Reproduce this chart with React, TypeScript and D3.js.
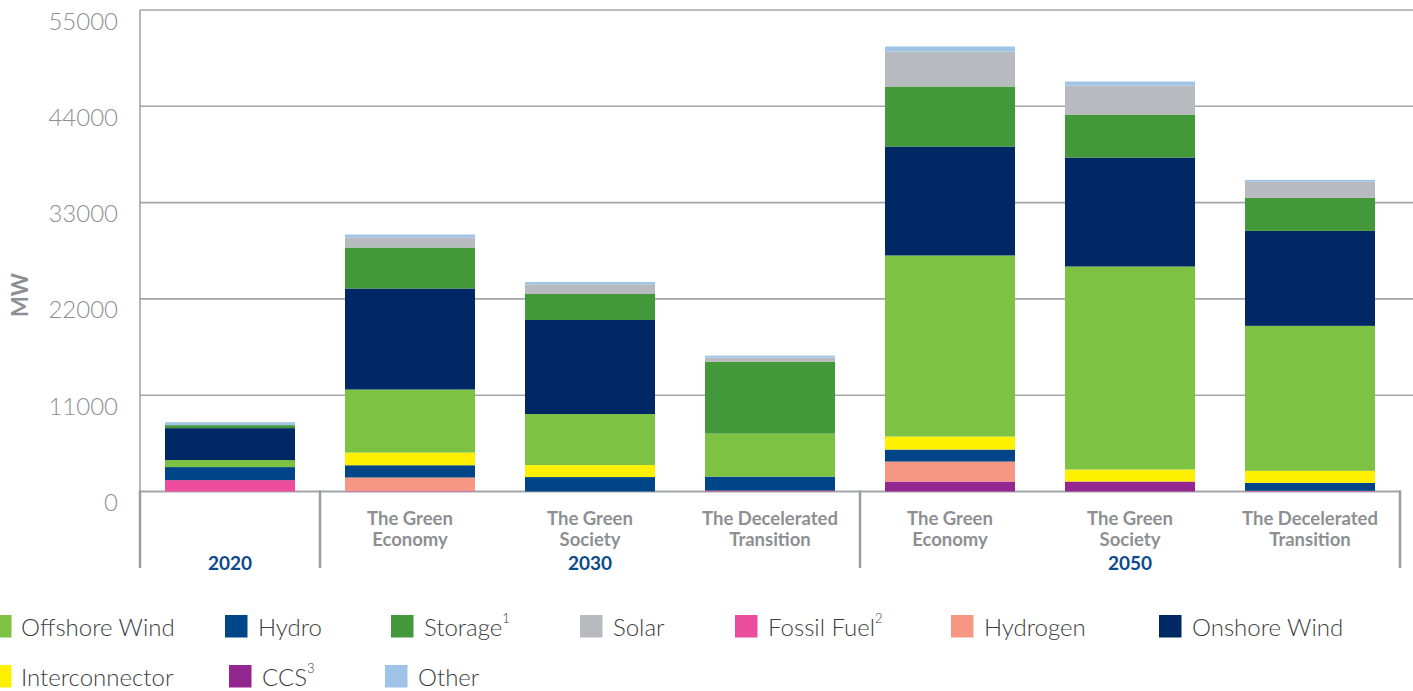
import React from "react";
import * as d3 from "d3";

// ---------- DATA ----------
const years = ["2020", "2030", "2050"];
const barYear = ["2020", "2030", "2030", "2030", "2050", "2050", "2050"];
const scenarios = [
  "",
  "The Green Economy",
  "The Green Society",
  "The Decelerated Transition",
  "The Green Economy",
  "The Green Society",
  "The Decelerated Transition",
];

const seriesNames = [
  "CCS",
  "Fossil Fuel",
  "Hydrogen",
  "Hydro",
  "Interconnector",
  "Offshore Wind",
  "Onshore Wind",
  "Storage",
  "Solar",
  "Other",
];

const ccs = [0, 0, 0, 0, 1140, 1140, 0];
const fossilFuel = [1300, 100, 0, 100, 0, 0, 80];
const hydrogen = [0, 1500, 0, 0, 2280, 0, 0];
const hydro = [1490, 1400, 1650, 1600, 1370, 0, 910];
const interconnector = [0, 1450, 1370, 0, 1490, 1370, 1370];
const offshoreWind = [800, 7200, 5830, 4910, 20680, 23190, 16560];
const onshoreWind = [3650, 11540, 10740, 0, 12450, 12450, 10850];
const storage = [340, 4680, 2970, 8220, 6850, 4910, 3770];
const solar = [0, 1140, 1110, 460, 4000, 3310, 1830];
const other = [340, 340, 260, 230, 570, 460, 230];

const yTicks = [0, 11000, 22000, 33000, 44000, 55000];

const legendRows = [
  ["Offshore Wind", "Hydro", "Storage", "Solar", "Fossil Fuel", "Hydrogen", "Onshore Wind"],
  ["Interconnector", "CCS", "Other"],
];
const footnote: Record<string, string> = { Storage: "1", "Fossil Fuel": "2", CCS: "3" };

// ---------- STYLE / LAYOUT ----------
const colors: Record<string, string> = {
  "Offshore Wind": "#7dc242",
  Hydro: "#004587",
  Storage: "#43983a",
  Solar: "#b7babe",
  "Fossil Fuel": "#ec4d9d",
  Hydrogen: "#f59782",
  "Onshore Wind": "#002864",
  Interconnector: "#fff000",
  CCS: "#93278f",
  Other: "#a0c4e8",
};
const legendX = [
  [0, 225, 391, 580, 735, 951, 1159],
  [0, 229, 385],
];
const legendY = [615, 665];

const W = 1413;
const H = 691;
const plotLeft = 140;
const plotRight = 1401;
const yTop = 10;
const yBottom = 491.5;

export default function App() {
  const valuesBySeries: Record<string, number[]> = {
    CCS: ccs,
    "Fossil Fuel": fossilFuel,
    Hydrogen: hydrogen,
    Hydro: hydro,
    Interconnector: interconnector,
    "Offshore Wind": offshoreWind,
    "Onshore Wind": onshoreWind,
    Storage: storage,
    Solar: solar,
    Other: other,
  };
  const rows = scenarios.map((s, i) => {
    const r: any = { idx: i };
    seriesNames.forEach((n) => (r[n] = valuesBySeries[n][i]));
    return r;
  });
  const stacked = d3.stack<any>().keys(seriesNames)(rows);

  const x = d3
    .scaleBand<number>()
    .domain(d3.range(scenarios.length))
    .range([plotLeft, plotLeft + 180 * scenarios.length])
    .paddingInner(50 / 180)
    .paddingOuter(25 / 180);
  const step = x.step();
  const y = d3.scaleLinear().domain([0, 55000]).range([yBottom, yTop]);

  const groups = years.map((yr) => {
    const idxs = barYear.map((b, i) => (b === yr ? i : -1)).filter((i) => i >= 0);
    const start = (x(idxs[0]) as number) - step * (25 / 180);
    const end = start + step * idxs.length;
    return { yr, start, end };
  });
  const boundaries = [groups[0].start, ...groups.map((g) => g.end)];

  const font = "Lato, 'Open Sans', sans-serif";
  const gray = "#8d8f92";

  return (
    <svg
      width={W}
      height={H}
      style={{ position: "absolute", left: 0, top: 0, display: "block", background: "#fff" }}
    >
      {yTicks.map((t) => (
        <line
          key={"g" + t}
          x1={plotLeft}
          x2={t === 0 ? plotRight : W}
          y1={y(t)}
          y2={y(t)}
          stroke="#a3a5a8"
          strokeWidth={t === 0 ? 2 : 1.6}
        />
      ))}
      <line x1={plotLeft} x2={plotLeft} y1={yTop} y2={yBottom} stroke="#8d8f92" strokeWidth={1.3} />

      {yTicks.map((t) => (
        <text
          key={"t" + t}
          x={118}
          y={y(t) + 10}
          textAnchor="end"
          dominantBaseline="central"
          fontFamily={font}
          fontWeight={300}
          fontSize={24}
          fill={gray}
        >
          {t}
        </text>
      ))}
      <text
        transform={`translate(19,295) rotate(-90)`}
        textAnchor="middle"
        dominantBaseline="central"
        fontFamily={font}
        fontWeight={700}
        fontSize={22}
        fill={gray}
      >
        MW
      </text>

      {stacked.map((layer) => (
        <g key={layer.key} fill={colors[layer.key]}>
          {layer.map((d, i) =>
            d[1] - d[0] > 0 ? (
              <rect
                key={i}
                x={x(i) as number}
                width={x.bandwidth()}
                y={y(d[1])}
                height={y(d[0]) - y(d[1])}
              />
            ) : null
          )}
        </g>
      ))}

      {boundaries.map((b, i) => (
        <line
          key={"s" + i}
          x1={b}
          x2={b}
          y1={yBottom - 1}
          y2={568}
          stroke="#9a9c9f"
          strokeWidth={2.5}
        />
      ))}

      {scenarios.map((s, i) => {
        if (!s) return null;
        const cut = s.lastIndexOf(" ");
        const lines = [s.slice(0, cut), s.slice(cut + 1)];
        const cx = (x(i) as number) + x.bandwidth() / 2;
        return (
          <text
            key={"c" + i}
            textAnchor="middle"
            fontFamily={font}
            fontWeight={700}
            fontSize={18.5}
            fill={gray}
          >
            {lines.map((l, j) => (
              <tspan key={j} x={cx} y={518 + j * 20.5} dominantBaseline="central">
                {l}
              </tspan>
            ))}
          </text>
        );
      })}

      {groups.map((g) => (
        <text
          key={"y" + g.yr}
          x={(g.start + g.end) / 2}
          y={562}
          textAnchor="middle"
          dominantBaseline="central"
          fontFamily={font}
          fontWeight={700}
          fontSize={19}
          fill="#0b4a8b"
        >
          {g.yr}
        </text>
      ))}

      {legendRows.map((row, ri) =>
        row.map((name, ci) => {
          const lx = legendX[ri][ci];
          const ly = legendY[ri];
          return (
            <g key={name}>
              <rect x={lx === 0 ? -11 : lx} y={ly} width={22.5} height={22.5} fill={colors[name]} />
              <text
                x={lx + (lx === 0 ? 21 : 33)}
                y={ly + 11.5}
                dominantBaseline="central"
                fontFamily={font}
                fontWeight={300}
                fontSize={24}
                fill="#3d3d3d"
              >
                {name}
                {footnote[name] ? (
                  <tspan fontSize={13} dy={-9}>
                    {footnote[name]}
                  </tspan>
                ) : null}
              </text>
            </g>
          );
        })
      )}
    </svg>
  );
}
